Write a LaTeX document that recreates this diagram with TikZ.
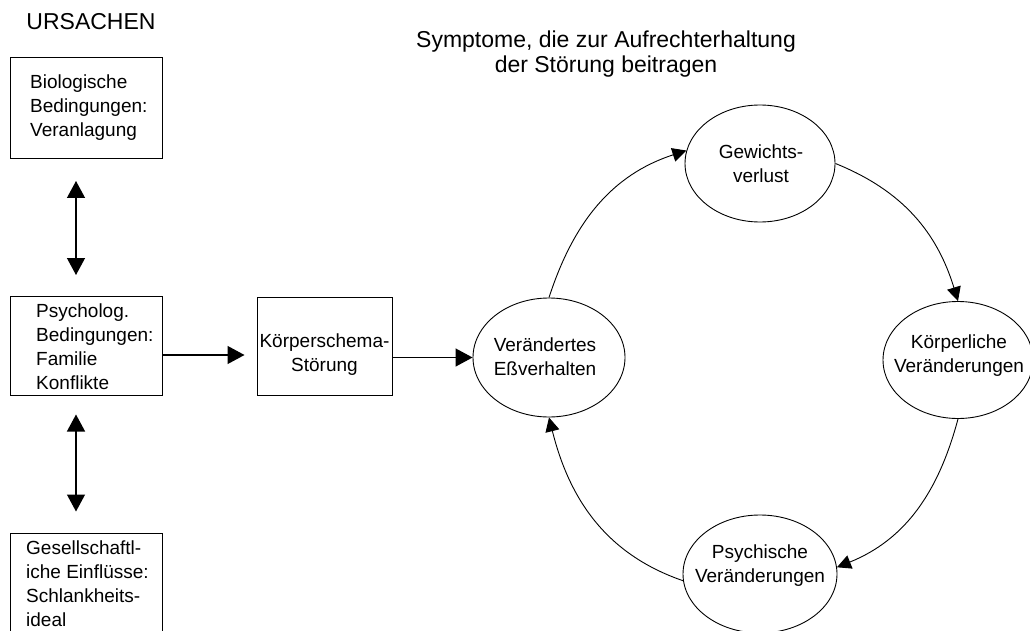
\documentclass[tikz,border=0pt]{standalone}
\usepackage{fontspec}
\setmainfont{Liberation Sans}
\usetikzlibrary{arrows.meta,shapes.geometric}
\begin{document}
\begin{tikzpicture}[x=1pt,y=-1pt,
  box/.style={draw,line width=1pt,rectangle,inner sep=0pt},
  txt/.style={font=\fontsize{19}{24}\selectfont,align=left,inner sep=0pt},
  ctxt/.style={font=\fontsize{19}{24}\selectfont,align=center,inner sep=0pt},
  ell/.style={draw,line width=0.9pt,ellipse,minimum width=152pt,minimum height=118pt,inner sep=0pt},
  big/.style={line width=1.3pt,-{Triangle[length=17pt,width=18pt]}},
  dbl/.style={line width=1.3pt,{Triangle[length=17pt,width=18pt]}-{Triangle[length=17pt,width=18pt]}},
  arcarrow/.style={line width=0.9pt,-{Triangle[length=14pt,width=14pt]}}]
\clip (0,0) rectangle (1030,631);
\fill[white] (0,0) rectangle (1030,631);
% headings
\node[font=\fontsize{23}{25}\selectfont,inner sep=0pt] (urs) at (91,22) {URSACHEN};
\node[font=\fontsize{23}{25}\selectfont,align=center,inner sep=0pt] (title) at (606,54) {Symptome, die zur Aufrechterhaltung\\der St\"orung beitragen};
% boxes
\node[box,minimum width=152pt,minimum height=101pt] (b1) at (86,108.5) {};
\node[txt,anchor=west] (t1) at (30,108) {Biologische\\Bedingungen:\\Veranlagung};
\node[box,minimum width=152pt,minimum height=99pt] (b2) at (86,346) {};
\node[txt,anchor=west] (t2) at (36,347) {Psycholog.\\Bedingungen:\\Familie\\Konflikte};
\node[box,minimum width=135pt,minimum height=98pt] (b3) at (324.5,346) {};
\node[ctxt] (t3) at (324.5,355) {K\"orperschema-\\St\"orung};
\node[box,minimum width=152pt,minimum height=112pt] (b4) at (86,589) {};
\node[txt,anchor=west] (t4) at (26,584) {Gesellschaftl-\\iche Einfl\"usse:\\Schlankheits-\\ideal};
% ellipses
\node[ell,minimum width=152pt,minimum height=119pt] (ver) at (549,357.5) {};
\node[ctxt] (tver) at (545,357) {Ver\"andertes\\E\ss verhalten};
\node[ell,minimum width=150pt,minimum height=117pt] (gew) at (760,163.5) {};
\node[ctxt] (tgew) at (761,163.5) {Gewichts-\\verlust};
\node[ell,minimum width=150pt,minimum height=117pt] (kor) at (958,360) {};
\node[ctxt] (tkor) at (959,356) {K\"orperliche\\Ver\"anderungen};
\node[ell,minimum width=154pt,minimum height=118pt] (psy) at (760,574) {};
\node[ctxt] (tpsy) at (760,566) {Psychische\\Ver\"anderungen};
% straight connectors
\draw[dbl,shorten <=21.5pt,shorten >=21pt] ([xshift=-10pt]b1.south) -- ([xshift=-10pt]b2.north);
\draw[dbl,shorten <=18.5pt,shorten >=21pt] ([xshift=-10pt]b2.south) -- ([xshift=-10pt]b4.north);
\draw[big,shorten >=12pt] ([yshift=-9pt]b2.east) -- ([yshift=-9pt]b3.west);
\draw[big] (b3.east |- ver.west) -- (ver.west);
% cycle
\draw[arcarrow] (ver.north) to[out=72,in=198] (gew.170);
\draw[arcarrow] (gew.east) to[out=-22,in=107] (kor.north);
\draw[arcarrow] (kor.south) to[out=-105,in=22] (psy.5);
\draw[arcarrow] (psy.185) to[out=161,in=-76] (ver.south);
\end{tikzpicture}
\end{document}
